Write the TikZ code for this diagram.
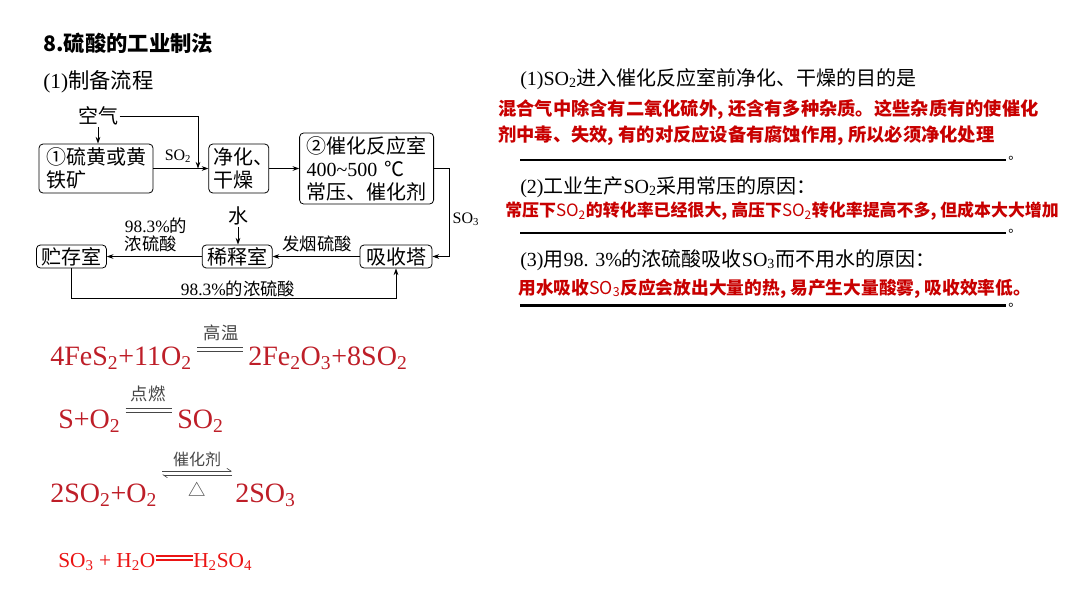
\documentclass[tikz,border=0pt]{standalone}
\usepackage{fontspec}
\setmainfont{Liberation Serif}
\newfontfamily\cjk{Noto Sans CJK SC}
\usetikzlibrary{arrows.meta,positioning}

\definecolor{ansred}{RGB}{200,0,0}
\definecolor{eqred}{RGB}{190,30,40}
\definecolor{eqbright}{RGB}{235,20,20}
\definecolor{condgray}{RGB}{70,70,70}

\newcommand\flowfont{\cjk\fontsize{15pt}{17.25pt}\selectfont}
\newcommand\lblfont{\cjk\fontsize{13pt}{14pt}\selectfont}

\begin{document}
\begin{tikzpicture}[
  x=0.75pt, y=-0.75pt,
  box/.style={draw, rounded corners=3pt, line width=0.6pt, font=\flowfont, inner ysep=1pt},
  lbl/.style={inner sep=1pt, font=\lblfont},
  arr/.style={-{Stealth[length=5pt,width=3.5pt]}, line width=0.6pt},
  eq/.style={anchor=base west, inner sep=0pt, text=eqred, font=\fontsize{21pt}{21pt}\selectfont},
  cond/.style={inner sep=0pt, text=condgray, font=\cjk\fontsize{13pt}{13pt}\selectfont},
  eqline/.style={draw=condgray, line width=0.5pt},
  ask/.style={anchor=base west, inner sep=0pt, font=\fontsize{15pt}{15pt}\selectfont},
  ans/.style={anchor=base west, inner sep=0pt, text=ansred, font=\cjk\bfseries\fontsize{13.7pt}{13.7pt}\selectfont},
  uline/.style={line width=1.1pt},
  dot/.style={anchor=base west, inner sep=0pt, font=\cjk\fontsize{10pt}{10pt}\selectfont}
]
\fill[white] (0,0) rectangle (1080,608);
\useasboundingbox (0,0) rectangle (1080,608);

% headings
\node[anchor=base west, inner sep=0pt, font=\cjk\bfseries\fontsize{16pt}{16pt}\selectfont] (title) at (43,51) {8.硫酸的工业制法};
\node[anchor=base west, inner sep=0pt, font=\fontsize{16pt}{16pt}\selectfont] (sub) at (43,88) {(1){\cjk 制备流程}};

% flow chart
\node[box, text width=75pt, inner xsep=5.25pt, minimum height=36.75pt, align=left] (yuanliao) at (96,168.5) {①硫黄或黄\\铁矿};
\node[box, text width=38pt, inner xsep=3.5pt, minimum height=36.75pt, align=left, right=41.25pt of yuanliao] (jinghua) {净化、\\干燥};
\node[box, text width=90pt, inner xsep=5.25pt, minimum height=53.25pt, align=left, right=22.5pt of jinghua] (cuihua) {②催化反应室\\{\rmfamily 400\textasciitilde500} ℃\\常压、催化剂};
\node[box, minimum width=54pt, minimum height=17.25pt] (xishou) at (396,256.5) {吸收塔};
\node[box, minimum width=52.5pt, minimum height=17.25pt, left=65.25pt of xishou] (xishi) {稀释室};
\node[box, minimum width=52.5pt, minimum height=17.25pt, left=71.25pt of xishi] (zhucun) {贮存室};

\node[lbl, font=\flowfont] (kongqi) at (98,116) {空气};
\node[lbl, font=\flowfont] (shui) at (238,216) {水};
\coordinate (hui) at (198,168.5);

\draw[arr] (kongqi) -- (kongqi |- yuanliao.north);
\draw[arr] (kongqi.east) -| (hui);
\draw[arr] (yuanliao) -- (jinghua);
\node[lbl, font=\fontsize{12pt}{12pt}\selectfont] (so2) at (178,156) {SO\textsubscript{2}};
\draw[arr] (jinghua) -- (cuihua);
\draw[arr] (cuihua.east) -- ++(11.25pt,0) |- (xishou.east);
\node[lbl, anchor=west, font=\fontsize{12pt}{12pt}\selectfont] (so3) at (451,219) {SO\textsubscript{3}};
\draw[arr] (xishou) -- (xishi);
\node[lbl] (fayan) at (317,244) {发烟硫酸};
\draw[arr] (shui) -- (shui |- xishi.north);
\draw[arr] (xishi) -- (zhucun);
\node[lbl, align=left] (nong1) at (156,235) {{\rmfamily 98.3\%}的\\浓硫酸};
\draw[arr] (zhucun.south) -- ++(0,30) -| (xishou.south);
\node[lbl] (nong2) at (238,289) {{\rmfamily 98.3\%}的浓硫酸};

% equations
\node[eq] (fes) at (50,365) {4FeS\textsubscript{2}+11O\textsubscript{2}};
\node[eq] (feo) at (248,365) {2Fe\textsubscript{2}O\textsubscript{3}+8SO\textsubscript{2}};
\draw[eqline] ([shift={(4pt,13.5pt)}]fes.base east) -- ([shift={(-4pt,13.5pt)}]feo.base west);
\draw[eqline] ([shift={(4pt,10.5pt)}]fes.base east) -- ([shift={(-4pt,10.5pt)}]feo.base west);
\node[cond] (gaowen) at (221,333) {高温};

\node[eq] (s) at (58,428) {S+O\textsubscript{2}};
\node[eq] (so2a) at (177,428) {SO\textsubscript{2}};
\draw[eqline] ([shift={(3.75pt,15pt)}]s.base east) -- ([shift={(-3.75pt,15pt)}]so2a.base west);
\draw[eqline] ([shift={(3.75pt,12pt)}]s.base east) -- ([shift={(-3.75pt,12pt)}]so2a.base west);
\node[cond] (dianran) at (148,394) {点燃};

\node[eq] (so2o2) at (50,502) {2SO\textsubscript{2}+O\textsubscript{2}};
\node[eq] (so3a) at (235,502) {2SO\textsubscript{3}};
\draw[eqline, -{Straight Barb[harpoon,length=3pt,width=4pt]}] ([shift={(3.75pt,23.25pt)}]so2o2.base east) -- ([shift={(-2.25pt,23.25pt)}]so3a.base west);
\draw[eqline, -{Straight Barb[harpoon,length=3pt,width=4pt]}] ([shift={(-2.25pt,20.25pt)}]so3a.base west) -- ([shift={(3.75pt,20.25pt)}]so2o2.base east);
\node[cond, font=\cjk\fontsize{12pt}{12pt}\selectfont] (cuihuaji) at (197,459) {催化剂};
\node[cond] (delta) at (197,489) {△};

\node[eq, text=eqbright, font=\fontsize{16pt}{16pt}\selectfont] (so3h2o) at (58,567) {SO\textsubscript{3} + H\textsubscript{2}O};
\node[eq, text=eqbright, font=\fontsize{16pt}{16pt}\selectfont] (h2so4) at (193,567) {H\textsubscript{2}SO\textsubscript{4}};
\draw[eqbright, line width=1pt] ([yshift=8.25pt]so3h2o.base east) -- ([yshift=8.25pt]h2so4.base west);
\draw[eqbright, line width=1pt] ([yshift=5.25pt]so3h2o.base east) -- ([yshift=5.25pt]h2so4.base west);

% questions
\node[ask] (q1) at (520,85) {(1)SO\textsubscript{2}{\cjk 进入催化反应室前净化、干燥的目的是}};
\node[ans] (a1a) at (498,115) {混合气中除含有二氧化硫外, 还含有多种杂质。这些杂质有的使催化};
\node[ans] (a1b) at (498,141) {剂中毒、失效, 有的对反应设备有腐蚀作用, 所以必须净化处理};
\draw[uline] (520,160) -- (1006,160);
\node[dot] (d1) at (1008,159) {。};

\node[ask] (q2) at (520,193) {(2){\cjk 工业生产}SO\textsubscript{2}{\cjk 采用常压的原因：}};
\node[ans, font=\cjk\bfseries\fontsize{12.7pt}{12.7pt}\selectfont] (a2) at (505,216) {常压下{\mdseries SO\textsubscript{2}}的转化率已经很大, 高压下{\mdseries SO\textsubscript{2}}转化率提高不多, 但成本大大增加};
\draw[uline] (520,233) -- (1006,233);
\node[dot] (d2) at (1008,232) {。};

\node[ask] (q3) at (520,266) {(3){\cjk 用}98. 3\%{\cjk 的浓硫酸吸收}SO\textsubscript{3}{\cjk 而不用水的原因：}};
\node[ans, font=\cjk\bfseries\fontsize{13.3pt}{13.3pt}\selectfont] (a3) at (518,294) {用水吸收{\mdseries SO\textsubscript{3}}反应会放出大量的热, 易产生大量酸雾, 吸收效率低。};
\draw[uline, line width=2pt] (520,305.5) -- (1006,305.5);
\node[dot] (d3) at (1008,306) {。};
\end{tikzpicture}
\end{document}
